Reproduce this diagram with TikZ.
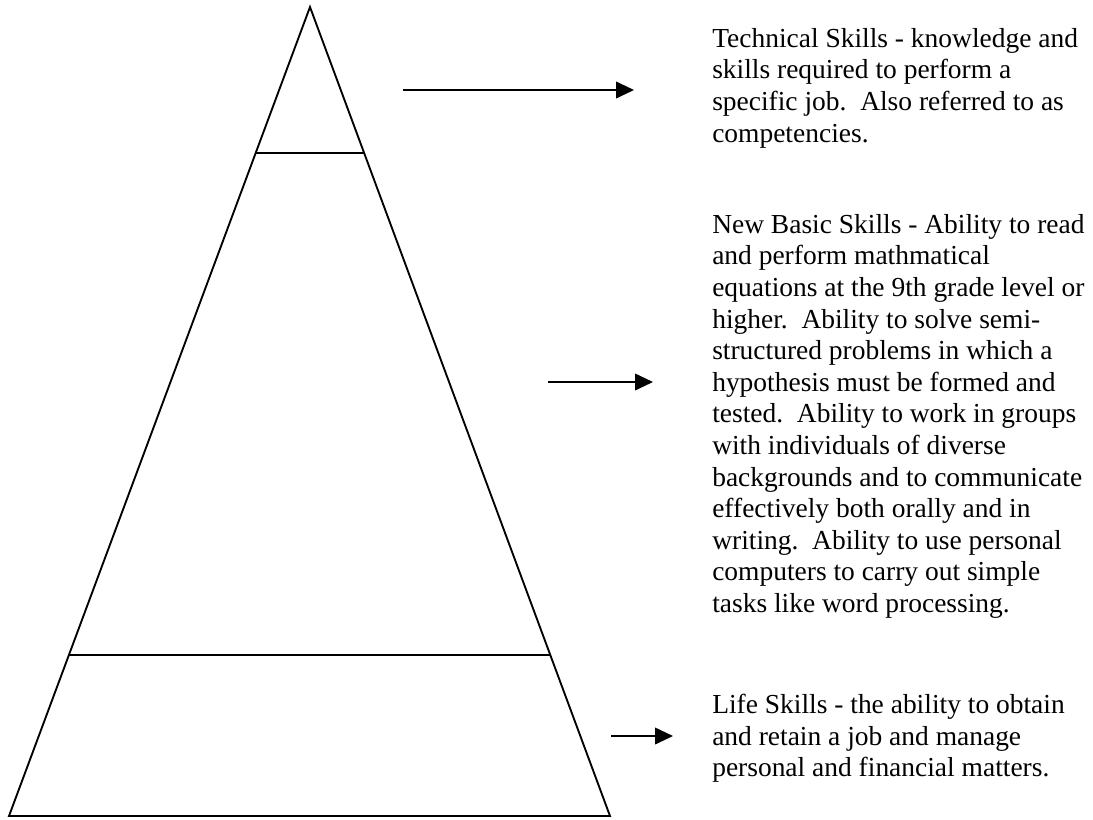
\documentclass[tikz,border=0pt]{standalone}
\usepackage{fontspec}
\setmainfont{Liberation Serif}
\usetikzlibrary{calc,arrows.meta}
\tikzset{
  edge/.style={black,line width=1.4pt,line join=miter},
  pointer/.style={black,line width=1.4pt,-{Triangle[length=13.5pt,width=12.5pt]}},
  desc/.style={anchor=north west,inner sep=0pt,align=left,
    font=\fontsize{20.6}{23.7}\selectfont}
}

\begin{document}
\begin{tikzpicture}[x=0.75pt,y=-0.75pt]
  \useasboundingbox (0,0) rectangle (1093,819);
  % pyramid
  \coordinate (apex) at (310,7);
  \coordinate (bl) at (9,816);
  \coordinate (br) at (610,816);
  \draw[edge] (apex)--(br)--(bl)--cycle;
  \coordinate (U1) at ($(apex)!0.1805!(bl)$);
  \coordinate (U2) at ($(apex)!0.1805!(br)$);
  \coordinate (L1) at ($(apex)!0.801!(bl)$);
  \coordinate (L2) at ($(apex)!0.801!(br)$);
  \draw[edge] (U1)--(U2);
  \draw[edge] (L1)--(L2);
  % arrows
  \coordinate (A1) at (403,90);  \coordinate (B1) at (634,90);
  \coordinate (A2) at (548,382); \coordinate (B2) at (653,382);
  \coordinate (A3) at (611,736); \coordinate (B3) at (673,736);
  \draw[pointer] (A1)--(B1);
  \draw[pointer] (A2)--(B2);
  \draw[pointer] (A3)--(B3);
  % descriptions
  \node[desc] (tech) at (712,28) {Technical Skills - knowledge and\\
    skills required to perform a\\
    specific job.\ \ Also referred to as\\
    competencies.};
  \node[desc] (basic) at (712,214) {New Basic Skills - Ability to read\\
    and perform mathmatical\\
    equations at the 9th grade level or\\
    higher.\ \ Ability to solve semi-\\
    structured problems in which a\\
    hypothesis must be formed and\\
    tested.\ \ Ability to work in groups\\
    with individuals of diverse\\
    backgrounds and to communicate\\
    effectively both orally and in\\
    writing.\ \ Ability to use personal\\
    computers to carry out simple\\
    tasks like word processing.};
  \node[desc] (life) at (712,694) {Life Skills - the ability to obtain\\
    and retain a job and manage\\
    personal and financial matters.};
\end{tikzpicture}
\end{document}
